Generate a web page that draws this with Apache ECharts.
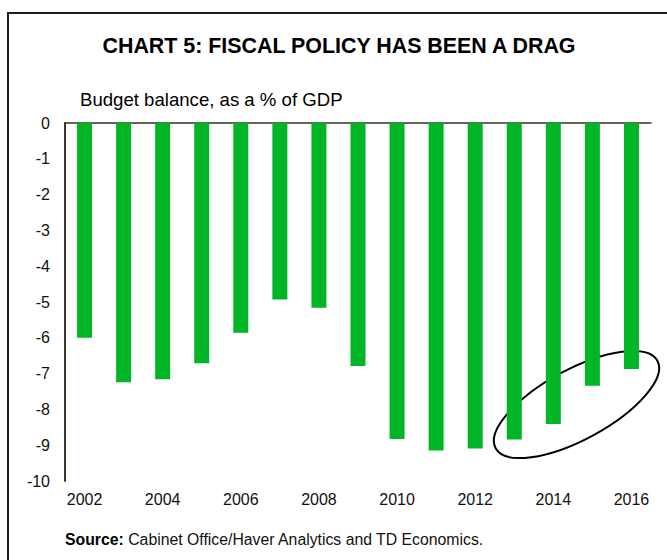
<!DOCTYPE html>
<html>
<head>
<meta charset="utf-8">
<script src="https://cdn.jsdelivr.net/npm/echarts@6/dist/echarts.min.js"></script>
<style>
  html, body { margin: 0; padding: 0; background: #ffffff; }
  #chart { width: 667px; height: 560px; }
</style>
</head>
<body>
<div id="chart"></div>
<script>
var years = ['2002','2003','2004','2005','2006','2007','2008','2009','2010','2011','2012','2013','2014','2015','2016'];
var budgetBalance = [-6.00, -7.24, -7.16, -6.71, -5.86, -4.93, -5.16, -6.79, -8.83, -9.15, -9.09, -8.84, -8.41, -7.34, -6.87];
var yTicks = { min: -10, max: 0, interval: 1 };
var titleText = 'CHART 5: FISCAL POLICY HAS BEEN A DRAG';
var subtitleText = 'Budget balance, as a % of GDP';
var sourceLabel = 'Source:';
var sourceText = ' Cabinet Office/Haver Analytics and TD Economics.';

var FONT = '"Liberation Sans", Arial, sans-serif';
var chart = echarts.init(document.getElementById('chart'), null, { renderer: 'svg' });

var option = {
  backgroundColor: '#ffffff',
  animation: false,
  grid: { left: 65, right: 16, top: 123, bottom: 79, containLabel: false },
  xAxis: [
    {
      type: 'category',
      data: years,
      position: 'bottom',
      axisLine: { show: false, onZero: false },
      axisTick: { show: false },
      axisLabel: { interval: 1, margin: 10, fontFamily: FONT, fontSize: 16, color: '#111' },
      splitLine: { show: false }
    },
    {
      type: 'category',
      data: years,
      position: 'top',
      axisLine: { show: true, onZero: false, lineStyle: { color: '#33331f', width: 1.5 } },
      axisTick: { show: false },
      axisLabel: { show: false },
      splitLine: { show: false }
    }
  ],
  yAxis: {
    type: 'value',
    min: yTicks.min,
    max: yTicks.max,
    interval: yTicks.interval,
    axisLine: { show: true, lineStyle: { color: '#3a3a2c', width: 2 } },
    axisTick: { show: false },
    splitLine: { show: false },
    axisLabel: { margin: 15, fontFamily: FONT, fontSize: 16, color: '#111' }
  },
  series: [
    {
      type: 'bar',
      xAxisIndex: 0,
      data: budgetBalance,
      barWidth: 15,
      itemStyle: { color: '#00b526' },
      silent: true
    }
  ],
  graphic: [
    {
      type: 'rect',
      shape: { x: 8, y: 13, width: 800, height: 800 },
      style: { fill: 'none', stroke: '#1f2012', lineWidth: 2 },
      silent: true
    },
    {
      type: 'text',
      x: 339, y: 46,
      style: {
        text: titleText,
        font: 'bold 21.4px ' + FONT,
        fill: '#000',
        textAlign: 'center',
        textVerticalAlign: 'middle'
      }
    },
    {
      type: 'text',
      x: 80, y: 99,
      style: {
        text: subtitleText,
        font: '18.6px ' + FONT,
        fill: '#000',
        textAlign: 'left',
        textVerticalAlign: 'middle'
      }
    },
    {
      type: 'text',
      x: 65, y: 539,
      style: {
        text: '{b|' + sourceLabel + '}{n|' + sourceText + '}',
        textAlign: 'left',
        textVerticalAlign: 'middle',
        rich: {
          b: { fontFamily: FONT, fontSize: 15.8, fontWeight: 'bold', fill: '#000' },
          n: { fontFamily: FONT, fontSize: 15.8, fill: '#111' }
        }
      }
    },
    {
      type: 'ellipse',
      x: 576.5, y: 404.5,
      rotation: 0.496,
      shape: { cx: 0, cy: 0, rx: 92, ry: 35 },
      style: { fill: 'none', stroke: '#000', lineWidth: 2 },
      silent: true
    }
  ]
};
chart.setOption(option);
</script>
</body>
</html>
